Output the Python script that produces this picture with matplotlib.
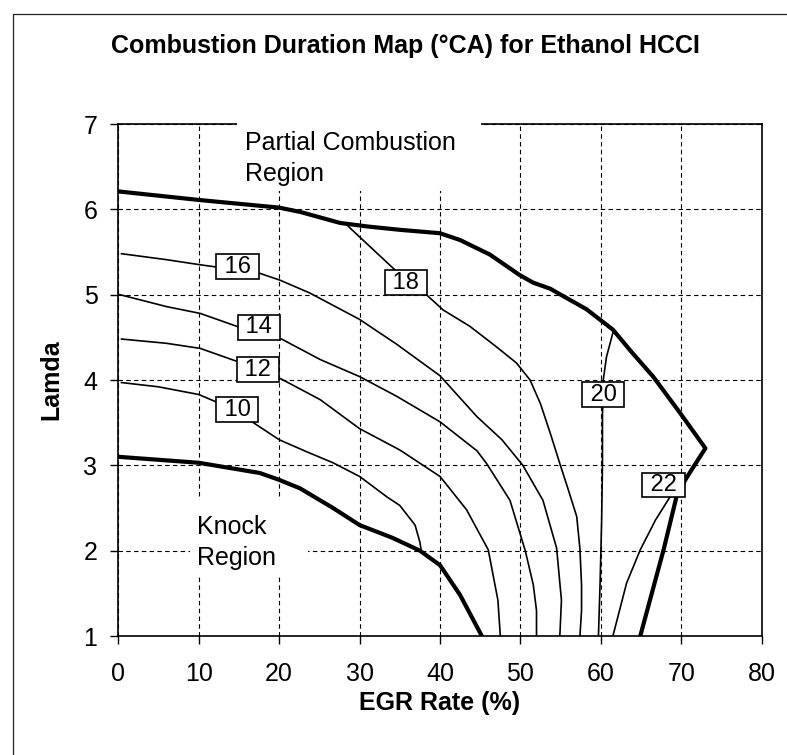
import matplotlib
matplotlib.use('Agg')
import matplotlib.pyplot as plt
from matplotlib.patches import Rectangle
from matplotlib.lines import Line2D

plt.rcParams['font.family'] = ['Liberation Sans', 'DejaVu Sans']

# ---------------- data ----------------
x_ticks = [0, 10, 20, 30, 40, 50, 60, 70, 80]
y_ticks = [1, 2, 3, 4, 5, 6, 7]

# thick boundary: partial combustion limit (top + right side)
upper_x = [0, 10, 20, 22.6, 27.6, 30.9, 35, 40, 42.5, 46.2, 49.9, 51.6, 53.7, 55.0,
           58.2, 61.5, 63.8, 66.5, 69.8, 73.0, 71.5, 70.5, 69.4, 67.8, 64.9]
upper_y = [6.21, 6.11, 6.02, 5.97, 5.84, 5.80, 5.76, 5.72, 5.64, 5.47, 5.23, 5.14, 5.07, 5.00,
           4.83, 4.59, 4.33, 4.04, 3.62, 3.20, 2.98, 2.83, 2.63, 2.01, 1.0]

# thick boundary: knock limit
knock_x = [0, 10, 17.6, 20, 22.6, 26.7, 30, 34.1, 37.5, 40, 42.5, 45.2]
knock_y = [3.10, 3.03, 2.91, 2.83, 2.73, 2.50, 2.30, 2.15, 2.00, 1.83, 1.48, 1.0]

# iso-duration contours
c10_x = [0.4, 5, 10, 12, 14.8, 16.8, 20, 23.4, 26.7, 30, 33.4, 35, 36.9, 37.5, 37.7]
c10_y = [3.97, 3.92, 3.83, 3.75, 3.62, 3.50, 3.30, 3.16, 3.03, 2.87, 2.63, 2.53, 2.30, 2.10, 1.98]

c12_x = [0.4, 6, 10.2, 14.7, 17.4, 20.3, 25.1, 30, 35, 37.9, 40, 43.3, 46.0, 47.2, 47.5]
c12_y = [4.48, 4.43, 4.37, 4.22, 4.12, 4.01, 3.77, 3.43, 3.18, 3.0, 2.87, 2.48, 2.01, 1.42, 1.0]

c14_x = [0.2, 6, 10.2, 14.7, 17.5, 20.3, 25.1, 30, 34.6, 40, 44.6, 45.8, 48.7, 50.6, 51.6, 52.0, 52.0]
c14_y = [5.0, 4.86, 4.78, 4.63, 4.56, 4.48, 4.24, 4.04, 3.81, 3.51, 3.17, 3.02, 2.59, 2.0, 1.6, 1.3, 1.0]

c16_x = [0.4, 6.0, 10.2, 14.8, 17.6, 20.1, 23.8, 30.0, 34.6, 40.0, 44.6, 47.7, 50.3, 52.8, 54.5, 55.1, 54.9]
c16_y = [5.48, 5.41, 5.35, 5.29, 5.25, 5.17, 5.02, 4.71, 4.42, 4.05, 3.57, 3.30, 3.00, 2.59, 2.03, 1.42, 1.0]

c18_x = [28.6, 34.4, 35.8, 38.3, 40.4, 43.7, 47.0, 49.5, 51.2, 52.5, 53.8, 54.9, 56.0, 57.0, 57.4, 57.6, 57.6, 57.4]
c18_y = [5.80, 5.29, 5.14, 5.0, 4.82, 4.63, 4.39, 4.20, 4.0, 3.72, 3.35, 3.02, 2.70, 2.40, 2.02, 1.6, 1.3, 1.0]

c20_x = [61.6, 60.7, 60.3, 60.3, 60.2, 60.2, 60.1, 59.9, 59.7]
c20_y = [4.59, 4.27, 4.0, 3.84, 3.6, 3.0, 2.36, 1.6, 1.0]

c22_x = [70.4, 68.6, 66.8, 64.9, 63.2, 61.5]
c22_y = [2.85, 2.63, 2.36, 2.01, 1.62, 1.0]

levels = [10, 12, 14, 16, 18, 20, 22]
label_x = [14.8, 17.4, 17.5, 14.8, 35.8, 60.3, 67.8]
label_y = [3.65, 4.12, 4.62, 5.33, 5.14, 3.83, 2.77]

# ---------------- figure ----------------
W, H = 787, 755
fig = plt.figure(figsize=(W / 100, H / 100), dpi=100)
ax = fig.add_axes([118.3 / W, 1 - 636 / H, (761.7 - 118.3) / W, (636 - 124) / H])

ax.set_xlim(0, 80)
ax.set_ylim(1, 7)
ax.set_xticks(x_ticks)
ax.set_yticks(y_ticks)
ax.grid(True, color='black', linestyle=(0, (4, 3)), linewidth=0.8)
ax.set_axisbelow(True)
for sp in ax.spines.values():
    sp.set_linewidth(1.2)
    sp.set_color('black')
ax.tick_params(direction='out', length=6, width=1.0, labelsize=18, colors='black')
ax.tick_params(axis='x', pad=13)
ax.tick_params(axis='y', pad=9)

# boundaries
ax.plot(upper_x, upper_y, color='black', lw=3.0, solid_joinstyle='round', zorder=3)
ax.plot(knock_x, knock_y, color='black', lw=3.0, solid_joinstyle='round', zorder=3)

# contours
contours = [(c10_x, c10_y), (c12_x, c12_y), (c14_x, c14_y), (c16_x, c16_y),
            (c18_x, c18_y), (c20_x, c20_y), (c22_x, c22_y)]
for cx, cy in contours:
    ax.plot(cx, cy, color='black', lw=1.2, zorder=3)

for lv, lx, ly in zip(levels, label_x, label_y):
    ax.text(lx, ly, f" {lv} ", fontsize=17, ha='center', va='center', zorder=6,
            bbox=dict(boxstyle='square,pad=0.06', fc='white', ec='black', lw=1.2))

# region annotations (white text boxes hiding the grid)
ax.add_patch(Rectangle((14.76, 6.22), 45.1 - 14.76, 7.08 - 6.22, facecolor='white',
                       edgecolor='none', zorder=2.6, clip_on=False))
ax.add_patch(Rectangle((8.9, 1.69), 23.6 - 8.9, 2.59 - 1.69, facecolor='white',
                       edgecolor='none', zorder=2.6))
ax.text(15.75, 6.70, "Partial Combustion", fontsize=18, ha='left', va='baseline', zorder=6)
ax.text(15.75, 6.33, "Region", fontsize=18, ha='left', va='baseline', zorder=6)
ax.text(9.75, 2.196, "Knock", fontsize=18, ha='left', va='baseline', zorder=6)
ax.text(9.75, 1.83, "Region", fontsize=18, ha='left', va='baseline', zorder=6)

# axis labels
ax.set_xlabel("EGR Rate (%)", fontsize=18, fontweight='bold', va='center')
ax.xaxis.set_label_coords(0.5, (636 - 703) / 512)
ax.set_ylabel("Lamda", fontsize=18, fontweight='bold', va='center')
ax.yaxis.set_label_coords((51.7 - 118.3) / 643.4, 0.5)

# title
fig.text(405 / W, 1 - 53.3 / H, "Combustion Duration Map (°CA) for Ethanol HCCI",
         fontsize=18, fontweight='bold', ha='center', va='baseline')

# outer frame (only left and top edges visible)
fig.add_artist(Line2D([12.5 / W, 12.5 / W, 1.01], [-0.01, 1 - 14 / H, 1 - 14 / H],
                      transform=fig.transFigure, color='#222222', lw=0.9))

fig.savefig('out.png', dpi=100)
